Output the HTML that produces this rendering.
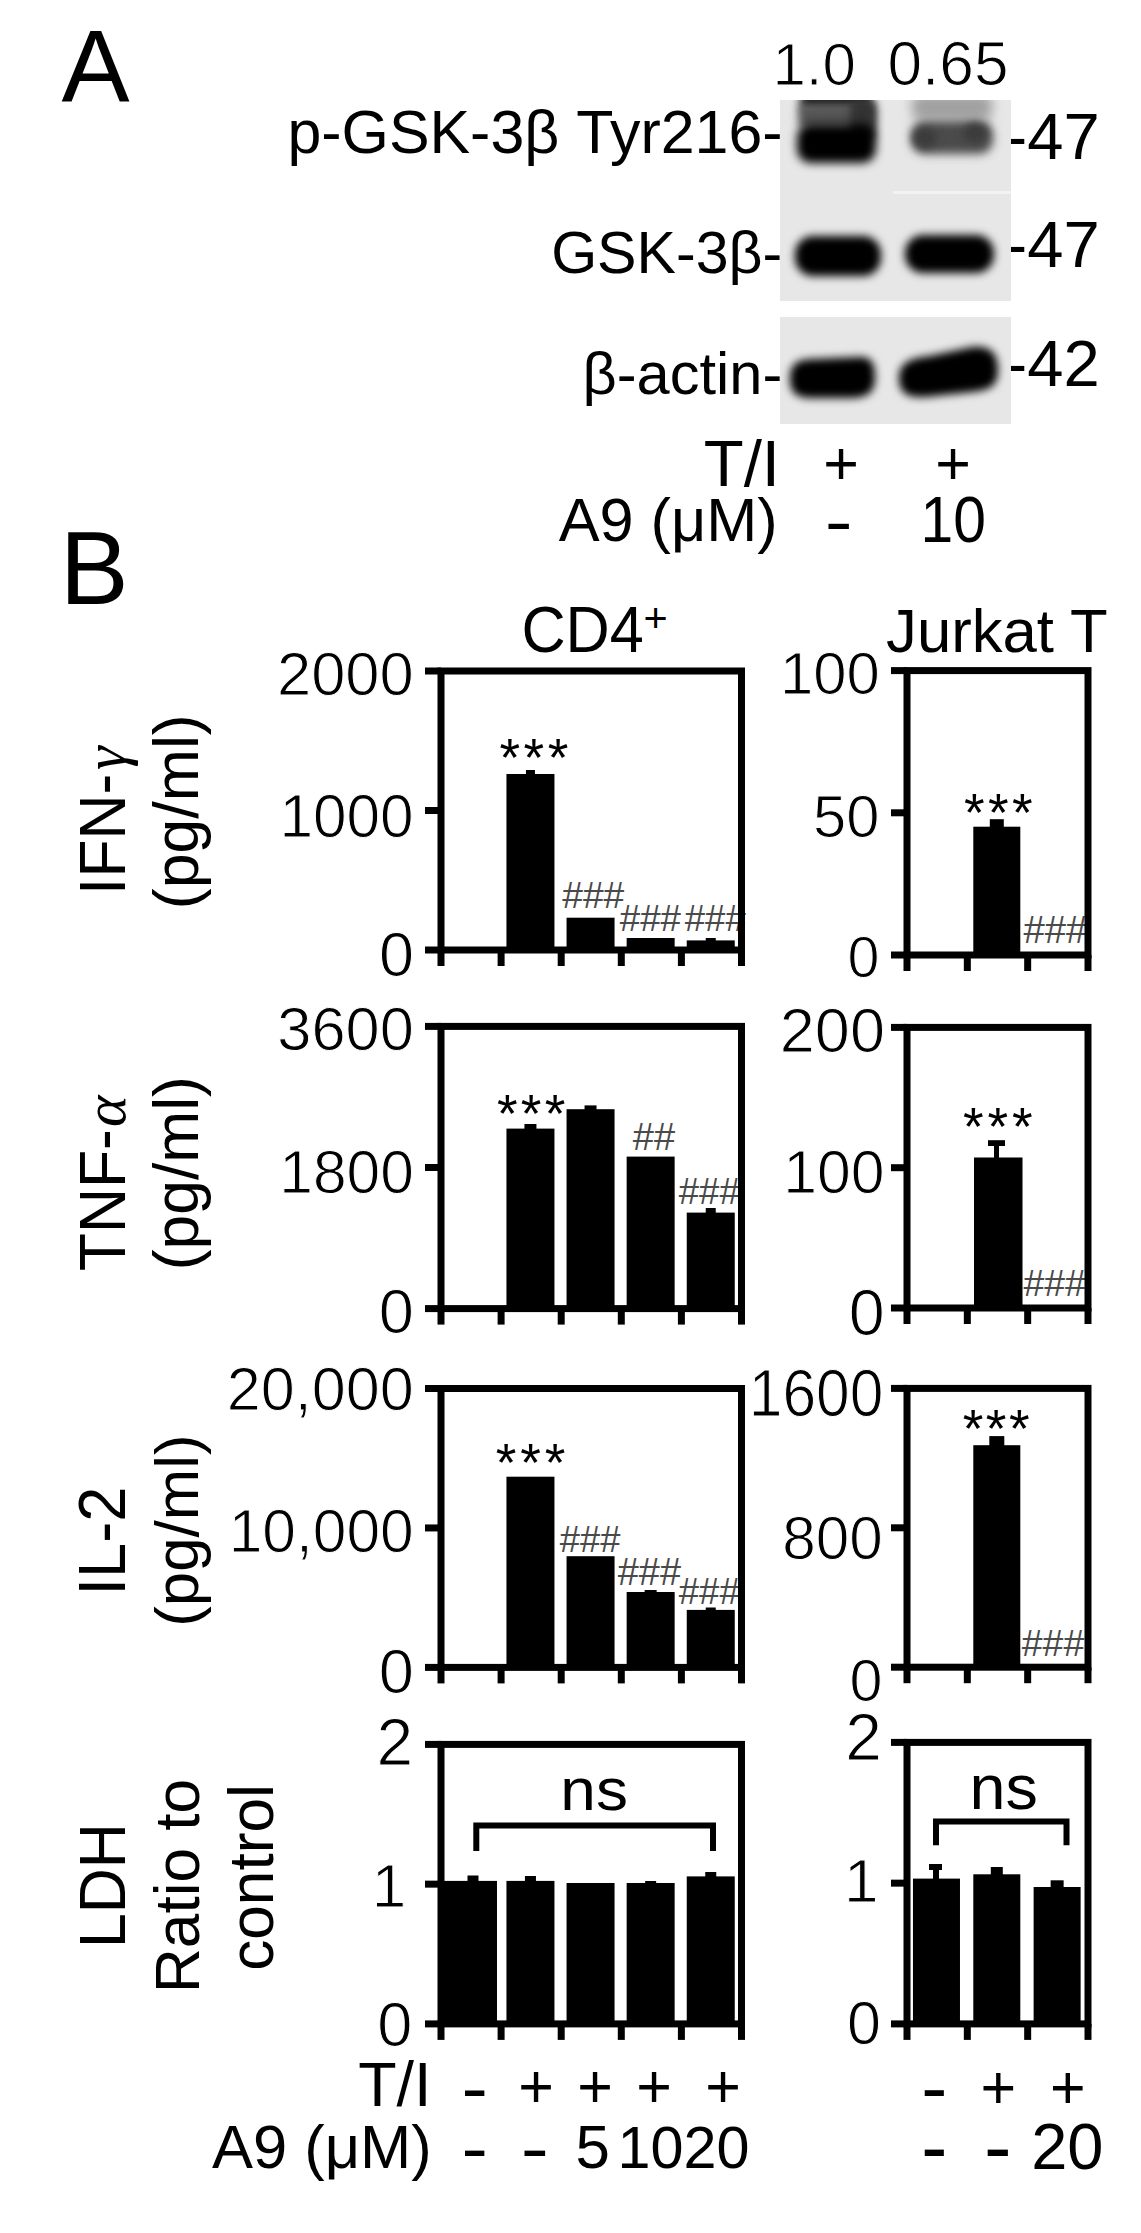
<!DOCTYPE html>
<html><head><meta charset="utf-8"><title>Figure</title>
<style>html,body{margin:0;padding:0;background:#fff;} svg{display:block;}</style></head>
<body><svg width="1141" height="2233" viewBox="0 0 1141 2233">
<rect width="1141" height="2233" fill="#fff"/>
<text x="61.49" y="102.00" style="font-family:'Liberation Sans', Arial, sans-serif;font-size:102.12px" fill="#000" >A</text>
<text x="772.50" y="84.50" style="font-family:'Liberation Sans', Arial, sans-serif;font-size:60.00px" fill="#000" stroke="#fff" stroke-width="1">1.0</text>
<text x="887.51" y="84.50" style="font-family:'Liberation Sans', Arial, sans-serif;font-size:62.20px" fill="#000" stroke="#fff" stroke-width="1">0.65</text>
<text x="287.44" y="153.00" style="font-family:'Liberation Sans', Arial, sans-serif;font-size:60.88px" fill="#000" >p-GSK-3β Tyr216-</text>
<text x="551.14" y="273.40" style="font-family:'Liberation Sans', Arial, sans-serif;font-size:59.13px" fill="#000" >GSK-3β-</text>
<text x="582.53" y="393.70" style="font-family:'Liberation Sans', Arial, sans-serif;font-size:59.57px" fill="#000" >β-actin-</text>
<text x="1005.57" y="158.70" style="font-family:'Liberation Sans', Arial, sans-serif;font-size:65.11px" fill="#000" >-47</text>
<text x="1005.57" y="267.30" style="font-family:'Liberation Sans', Arial, sans-serif;font-size:65.11px" fill="#000" >-47</text>
<text x="1005.57" y="385.50" style="font-family:'Liberation Sans', Arial, sans-serif;font-size:65.11px" fill="#000" >-42</text>
<defs>
<filter id="b6" x="-50%" y="-50%" width="200%" height="200%"><feGaussianBlur stdDeviation="6"/></filter>
<filter id="b4" x="-50%" y="-50%" width="200%" height="200%"><feGaussianBlur stdDeviation="4"/></filter>
<filter id="b5" x="-50%" y="-50%" width="200%" height="200%"><feGaussianBlur stdDeviation="5"/></filter>
<filter id="b8" x="-50%" y="-50%" width="200%" height="200%"><feGaussianBlur stdDeviation="8"/></filter>
<clipPath id="c1"><rect x="780" y="100" width="231" height="93"/></clipPath>
<clipPath id="c2"><rect x="780" y="193" width="231" height="108"/></clipPath>
<clipPath id="c3"><rect x="780" y="317" width="231" height="107"/></clipPath>
</defs>
<rect x="780.00" y="100.00" width="231.00" height="201.00" fill="#e7e7e7" />
<rect x="893.00" y="191.00" width="118.00" height="3.00" fill="#f2f2f2" />
<rect x="780.00" y="317.00" width="231.00" height="107.00" fill="#e7e7e7" />
<g clip-path="url(#c1)">
<rect x="800" y="92" width="72" height="18" rx="6" fill="#1a1a1a" filter="url(#b4)"/>
<rect x="798" y="104" width="77" height="24" rx="6" fill="#555" filter="url(#b4)"/>
<rect x="850" y="100" width="26" height="40" rx="8" fill="#303030" filter="url(#b4)"/>
<rect x="797" y="124" width="79" height="39" rx="14" fill="#000" filter="url(#b5)"/>
<rect x="912" y="94" width="80" height="26" rx="8" fill="#a0a0a0" filter="url(#b6)"/>
<rect x="911" y="121" width="82" height="33" rx="14" fill="#4c4c4c" filter="url(#b5)"/>
<ellipse cx="925" cy="138" rx="12" ry="10" fill="#3a3a3a" filter="url(#b4)"/>
<ellipse cx="975" cy="133" rx="12" ry="10" fill="#3a3a3a" filter="url(#b4)"/>
</g>
<g clip-path="url(#c2)">
<rect x="795" y="236" width="86" height="40" rx="18" fill="#000" filter="url(#b4)"/>
<rect x="905" y="235" width="89" height="38" rx="18" fill="#000" filter="url(#b4)"/>
</g>
<g clip-path="url(#c3)">
<path d="M790 378 C790 362 800 359 815 359 L860 357 C873 357 875 365 875 378 C875 392 868 398 850 398 L812 398 C795 398 790 392 790 378 Z" fill="#000" filter="url(#b4)"/>
<path d="M899 378 C899 362 912 358 930 356 L972 347 C993 345 998 356 998 370 C998 386 990 390 972 392 L925 397 C906 398 899 392 899 378 Z" fill="#000" filter="url(#b4)"/>
</g>
<text x="703.69" y="485.60" style="font-family:'Liberation Sans', Arial, sans-serif;font-size:65.40px" fill="#000" >T/I</text>
<text x="823.16" y="483.89" style="font-family:'Liberation Sans', Arial, sans-serif;font-size:61.00px" fill="#000" >+</text>
<text x="935.16" y="483.89" style="font-family:'Liberation Sans', Arial, sans-serif;font-size:61.00px" fill="#000" >+</text>
<text x="558.69" y="541.00" style="font-family:'Liberation Sans', Arial, sans-serif;font-size:61.25px" fill="#000" >A9 (μM)</text>
<text transform="translate(828.50,523.80) scale(1.372,1.107)" x="-2.75" y="18.61" style="font-family:'Liberation Sans', Arial, sans-serif;font-size:61.0px">-</text>
<text x="920.59" y="542.50" style="font-family:'Liberation Sans', Arial, sans-serif;font-size:58.79px" fill="#000"  transform="translate(0,542.50) scale(1,1.1177) translate(0,-542.50)">10</text>
<text x="59.73" y="604.10" style="font-family:'Liberation Sans', Arial, sans-serif;font-size:103.36px" fill="#000" >B</text>
<text x="521.44" y="651.70" style="font-family:'Liberation Sans', Arial, sans-serif;font-size:61.20px" fill="#000"  transform="translate(0,651.70) scale(1,1.0668) translate(0,-651.70)">CD4</text>
<text x="643.43" y="631.54" style="font-family:'Liberation Sans', Arial, sans-serif;font-size:41.44px" fill="#000" >+</text>
<text x="886.08" y="651.80" style="font-family:'Liberation Sans', Arial, sans-serif;font-size:61.66px" fill="#000" >Jurkat T</text>
<rect x="506.45" y="774.00" width="48.00" height="176.00" fill="#000" />
<rect x="525.95" y="770.00" width="9.00" height="5.00" fill="#000" />
<rect x="566.55" y="917.70" width="48.00" height="32.30" fill="#000" />
<rect x="626.65" y="938.00" width="48.00" height="12.00" fill="#000" />
<rect x="686.75" y="940.40" width="48.00" height="9.60" fill="#000" />
<rect x="705.75" y="938.00" width="10.00" height="3.40" fill="#000" />
<rect x="973.30" y="826.70" width="47.00" height="128.30" fill="#000" />
<rect x="989.80" y="819.20" width="14.00" height="8.50" fill="#000" />
<rect x="506.45" y="1128.60" width="48.00" height="180.00" fill="#000" />
<rect x="524.45" y="1124.00" width="12.00" height="5.60" fill="#000" />
<rect x="566.55" y="1109.20" width="48.00" height="199.40" fill="#000" />
<rect x="584.55" y="1105.40" width="12.00" height="4.80" fill="#000" />
<rect x="626.65" y="1156.60" width="48.00" height="152.00" fill="#000" />
<rect x="686.75" y="1212.60" width="48.00" height="96.00" fill="#000" />
<rect x="705.75" y="1208.00" width="10.00" height="5.60" fill="#000" />
<rect x="974.00" y="1157.50" width="48.50" height="150.50" fill="#000" />
<rect x="994.00" y="1141.00" width="5.00" height="17.00" fill="#000" />
<rect x="988.00" y="1140.20" width="17.00" height="5.80" fill="#000" />
<rect x="506.45" y="1476.70" width="48.00" height="190.70" fill="#000" />
<rect x="566.55" y="1556.20" width="48.00" height="111.20" fill="#000" />
<rect x="626.65" y="1592.00" width="48.00" height="75.40" fill="#000" />
<rect x="644.65" y="1590.00" width="12.00" height="3.00" fill="#000" />
<rect x="686.75" y="1609.90" width="48.00" height="57.50" fill="#000" />
<rect x="705.75" y="1607.50" width="10.00" height="3.40" fill="#000" />
<rect x="973.30" y="1445.20" width="47.00" height="222.00" fill="#000" />
<rect x="989.30" y="1436.10" width="15.00" height="10.10" fill="#000" />
<rect x="441.00" y="1880.90" width="56.00" height="143.00" fill="#000" />
<rect x="467.50" y="1875.50" width="11.00" height="6.40" fill="#000" />
<rect x="506.45" y="1880.90" width="48.00" height="143.00" fill="#000" />
<rect x="524.95" y="1876.00" width="11.00" height="5.90" fill="#000" />
<rect x="566.55" y="1883.00" width="48.00" height="140.90" fill="#000" />
<rect x="626.65" y="1883.00" width="48.00" height="140.90" fill="#000" />
<rect x="645.15" y="1881.00" width="11.00" height="3.00" fill="#000" />
<rect x="686.75" y="1876.40" width="48.00" height="147.50" fill="#000" />
<rect x="705.25" y="1872.00" width="11.00" height="5.40" fill="#000" />
<rect x="912.97" y="1878.60" width="47.00" height="145.30" fill="#000" />
<rect x="929.00" y="1864.00" width="13.00" height="6.00" fill="#000" />
<rect x="933.00" y="1864.00" width="6.00" height="15.00" fill="#000" />
<rect x="973.30" y="1874.30" width="47.00" height="149.60" fill="#000" />
<rect x="990.80" y="1867.00" width="12.00" height="8.30" fill="#000" />
<rect x="1033.63" y="1887.00" width="47.00" height="136.90" fill="#000" />
<rect x="1050.63" y="1880.30" width="13.00" height="7.70" fill="#000" />
<path d="M476.3 1851 L476.3 1825.5 L713 1825.5 L713 1851" fill="none" stroke="#000" stroke-width="6"/>
<path d="M936 1845.2 L936 1821.5 L1066.5 1821.5 L1066.5 1845.2" fill="none" stroke="#000" stroke-width="6"/>
<text x="560.34" y="1810.20" style="font-family:'Liberation Sans', Arial, sans-serif;font-size:63.98px" fill="#000"  transform="translate(0,1810.20) scale(1,0.9320) translate(0,-1810.20)">ns</text>
<text x="969.49" y="1808.80" style="font-family:'Liberation Sans', Arial, sans-serif;font-size:64.71px" fill="#000"  transform="translate(0,1808.80) scale(1,0.9672) translate(0,-1808.80)">ns</text>
<text x="499.44" y="776.37" style="font-family:'Liberation Sans', Arial, sans-serif;font-size:53px;letter-spacing:3.55px" fill="#000">***</text>
<text x="963.94" y="831.37" style="font-family:'Liberation Sans', Arial, sans-serif;font-size:53px;letter-spacing:3.41px" fill="#000">***</text>
<text x="496.94" y="1131.57" style="font-family:'Liberation Sans', Arial, sans-serif;font-size:53px;letter-spacing:3.30px" fill="#000">***</text>
<text x="962.94" y="1145.27" style="font-family:'Liberation Sans', Arial, sans-serif;font-size:53px;letter-spacing:3.91px" fill="#000">***</text>
<text x="495.84" y="1481.07" style="font-family:'Liberation Sans', Arial, sans-serif;font-size:53px;letter-spacing:3.86px" fill="#000">***</text>
<text x="962.64" y="1446.67" style="font-family:'Liberation Sans', Arial, sans-serif;font-size:53px;letter-spacing:2.60px" fill="#000">***</text>
<text x="562.21" y="908.00" style="font-family:'Liberation Sans', Arial, sans-serif;font-size:37.22px" fill="#4a4a4a" >###</text>
<text x="619.82" y="930.50" style="font-family:'Liberation Sans', Arial, sans-serif;font-size:36.68px" fill="#4a4a4a" >###</text>
<text x="684.82" y="930.50" style="font-family:'Liberation Sans', Arial, sans-serif;font-size:36.50px" fill="#4a4a4a" >###</text>
<text x="1023.41" y="942.80" style="font-family:'Liberation Sans', Arial, sans-serif;font-size:38.31px" fill="#4a4a4a" >###</text>
<text x="632.81" y="1150.00" style="font-family:'Liberation Sans', Arial, sans-serif;font-size:38.00px" fill="#4a4a4a" >##</text>
<text x="678.82" y="1203.70" style="font-family:'Liberation Sans', Arial, sans-serif;font-size:36.50px" fill="#4a4a4a" >###</text>
<text x="1023.41" y="1295.60" style="font-family:'Liberation Sans', Arial, sans-serif;font-size:37.34px" fill="#4a4a4a" >###</text>
<text x="559.82" y="1551.80" style="font-family:'Liberation Sans', Arial, sans-serif;font-size:36.25px" fill="#4a4a4a" >###</text>
<text x="617.81" y="1585.00" style="font-family:'Liberation Sans', Arial, sans-serif;font-size:37.89px" fill="#4a4a4a" >###</text>
<text x="678.82" y="1604.00" style="font-family:'Liberation Sans', Arial, sans-serif;font-size:36.50px" fill="#4a4a4a" >###</text>
<text x="1021.81" y="1655.50" style="font-family:'Liberation Sans', Arial, sans-serif;font-size:37.40px" fill="#4a4a4a" >###</text>
<rect x="441.00" y="671.00" width="300.50" height="279.00" fill="none" stroke="#000" stroke-width="7"/>
<line x1="425.00" y1="671.00" x2="441.00" y2="671.00" stroke="#000" stroke-width="7"/>
<line x1="425.00" y1="810.50" x2="441.00" y2="810.50" stroke="#000" stroke-width="7"/>
<line x1="425.00" y1="950.00" x2="441.00" y2="950.00" stroke="#000" stroke-width="7"/>
<line x1="441.00" y1="950.00" x2="441.00" y2="966.00" stroke="#000" stroke-width="7"/>
<line x1="501.10" y1="950.00" x2="501.10" y2="966.00" stroke="#000" stroke-width="7"/>
<line x1="561.20" y1="950.00" x2="561.20" y2="966.00" stroke="#000" stroke-width="7"/>
<line x1="621.30" y1="950.00" x2="621.30" y2="966.00" stroke="#000" stroke-width="7"/>
<line x1="681.40" y1="950.00" x2="681.40" y2="966.00" stroke="#000" stroke-width="7"/>
<line x1="741.50" y1="950.00" x2="741.50" y2="966.00" stroke="#000" stroke-width="7"/>
<rect x="907.00" y="670.60" width="181.00" height="284.40" fill="none" stroke="#000" stroke-width="7"/>
<line x1="891.00" y1="670.60" x2="907.00" y2="670.60" stroke="#000" stroke-width="7"/>
<line x1="891.00" y1="812.80" x2="907.00" y2="812.80" stroke="#000" stroke-width="7"/>
<line x1="891.00" y1="955.00" x2="907.00" y2="955.00" stroke="#000" stroke-width="7"/>
<line x1="907.00" y1="955.00" x2="907.00" y2="971.00" stroke="#000" stroke-width="7"/>
<line x1="967.33" y1="955.00" x2="967.33" y2="971.00" stroke="#000" stroke-width="7"/>
<line x1="1027.67" y1="955.00" x2="1027.67" y2="971.00" stroke="#000" stroke-width="7"/>
<line x1="1088.00" y1="955.00" x2="1088.00" y2="971.00" stroke="#000" stroke-width="7"/>
<rect x="441.00" y="1026.40" width="300.50" height="282.20" fill="none" stroke="#000" stroke-width="7"/>
<line x1="425.00" y1="1026.40" x2="441.00" y2="1026.40" stroke="#000" stroke-width="7"/>
<line x1="425.00" y1="1167.50" x2="441.00" y2="1167.50" stroke="#000" stroke-width="7"/>
<line x1="425.00" y1="1308.60" x2="441.00" y2="1308.60" stroke="#000" stroke-width="7"/>
<line x1="441.00" y1="1308.60" x2="441.00" y2="1324.60" stroke="#000" stroke-width="7"/>
<line x1="501.10" y1="1308.60" x2="501.10" y2="1324.60" stroke="#000" stroke-width="7"/>
<line x1="561.20" y1="1308.60" x2="561.20" y2="1324.60" stroke="#000" stroke-width="7"/>
<line x1="621.30" y1="1308.60" x2="621.30" y2="1324.60" stroke="#000" stroke-width="7"/>
<line x1="681.40" y1="1308.60" x2="681.40" y2="1324.60" stroke="#000" stroke-width="7"/>
<line x1="741.50" y1="1308.60" x2="741.50" y2="1324.60" stroke="#000" stroke-width="7"/>
<rect x="907.00" y="1027.40" width="181.00" height="280.60" fill="none" stroke="#000" stroke-width="7"/>
<line x1="891.00" y1="1027.40" x2="907.00" y2="1027.40" stroke="#000" stroke-width="7"/>
<line x1="891.00" y1="1167.70" x2="907.00" y2="1167.70" stroke="#000" stroke-width="7"/>
<line x1="891.00" y1="1308.00" x2="907.00" y2="1308.00" stroke="#000" stroke-width="7"/>
<line x1="907.00" y1="1308.00" x2="907.00" y2="1324.00" stroke="#000" stroke-width="7"/>
<line x1="967.33" y1="1308.00" x2="967.33" y2="1324.00" stroke="#000" stroke-width="7"/>
<line x1="1027.67" y1="1308.00" x2="1027.67" y2="1324.00" stroke="#000" stroke-width="7"/>
<line x1="1088.00" y1="1308.00" x2="1088.00" y2="1324.00" stroke="#000" stroke-width="7"/>
<rect x="441.00" y="1388.50" width="300.50" height="278.90" fill="none" stroke="#000" stroke-width="7"/>
<line x1="425.00" y1="1388.50" x2="441.00" y2="1388.50" stroke="#000" stroke-width="7"/>
<line x1="425.00" y1="1527.95" x2="441.00" y2="1527.95" stroke="#000" stroke-width="7"/>
<line x1="425.00" y1="1667.40" x2="441.00" y2="1667.40" stroke="#000" stroke-width="7"/>
<line x1="441.00" y1="1667.40" x2="441.00" y2="1683.40" stroke="#000" stroke-width="7"/>
<line x1="501.10" y1="1667.40" x2="501.10" y2="1683.40" stroke="#000" stroke-width="7"/>
<line x1="561.20" y1="1667.40" x2="561.20" y2="1683.40" stroke="#000" stroke-width="7"/>
<line x1="621.30" y1="1667.40" x2="621.30" y2="1683.40" stroke="#000" stroke-width="7"/>
<line x1="681.40" y1="1667.40" x2="681.40" y2="1683.40" stroke="#000" stroke-width="7"/>
<line x1="741.50" y1="1667.40" x2="741.50" y2="1683.40" stroke="#000" stroke-width="7"/>
<rect x="907.00" y="1388.40" width="181.00" height="278.80" fill="none" stroke="#000" stroke-width="7"/>
<line x1="891.00" y1="1388.40" x2="907.00" y2="1388.40" stroke="#000" stroke-width="7"/>
<line x1="891.00" y1="1527.80" x2="907.00" y2="1527.80" stroke="#000" stroke-width="7"/>
<line x1="891.00" y1="1667.20" x2="907.00" y2="1667.20" stroke="#000" stroke-width="7"/>
<line x1="907.00" y1="1667.20" x2="907.00" y2="1683.20" stroke="#000" stroke-width="7"/>
<line x1="967.33" y1="1667.20" x2="967.33" y2="1683.20" stroke="#000" stroke-width="7"/>
<line x1="1027.67" y1="1667.20" x2="1027.67" y2="1683.20" stroke="#000" stroke-width="7"/>
<line x1="1088.00" y1="1667.20" x2="1088.00" y2="1683.20" stroke="#000" stroke-width="7"/>
<rect x="441.00" y="1744.40" width="300.50" height="279.50" fill="none" stroke="#000" stroke-width="7"/>
<line x1="425.00" y1="1744.40" x2="441.00" y2="1744.40" stroke="#000" stroke-width="7"/>
<line x1="425.00" y1="1884.15" x2="441.00" y2="1884.15" stroke="#000" stroke-width="7"/>
<line x1="425.00" y1="2023.90" x2="441.00" y2="2023.90" stroke="#000" stroke-width="7"/>
<line x1="441.00" y1="2023.90" x2="441.00" y2="2039.90" stroke="#000" stroke-width="7"/>
<line x1="501.10" y1="2023.90" x2="501.10" y2="2039.90" stroke="#000" stroke-width="7"/>
<line x1="561.20" y1="2023.90" x2="561.20" y2="2039.90" stroke="#000" stroke-width="7"/>
<line x1="621.30" y1="2023.90" x2="621.30" y2="2039.90" stroke="#000" stroke-width="7"/>
<line x1="681.40" y1="2023.90" x2="681.40" y2="2039.90" stroke="#000" stroke-width="7"/>
<line x1="741.50" y1="2023.90" x2="741.50" y2="2039.90" stroke="#000" stroke-width="7"/>
<rect x="907.00" y="1742.40" width="181.00" height="281.50" fill="none" stroke="#000" stroke-width="7"/>
<line x1="891.00" y1="1742.40" x2="907.00" y2="1742.40" stroke="#000" stroke-width="7"/>
<line x1="891.00" y1="1883.15" x2="907.00" y2="1883.15" stroke="#000" stroke-width="7"/>
<line x1="891.00" y1="2023.90" x2="907.00" y2="2023.90" stroke="#000" stroke-width="7"/>
<line x1="907.00" y1="2023.90" x2="907.00" y2="2039.90" stroke="#000" stroke-width="7"/>
<line x1="967.33" y1="2023.90" x2="967.33" y2="2039.90" stroke="#000" stroke-width="7"/>
<line x1="1027.67" y1="2023.90" x2="1027.67" y2="2039.90" stroke="#000" stroke-width="7"/>
<line x1="1088.00" y1="2023.90" x2="1088.00" y2="2039.90" stroke="#000" stroke-width="7"/>
<g stroke="#fff" stroke-width="1">
<text x="276.93" y="695.00" style="font-family:'Liberation Sans', Arial, sans-serif;font-size:61.50px" fill="#000" >2000</text>
<text x="279.48" y="836.50" style="font-family:'Liberation Sans', Arial, sans-serif;font-size:60.33px" fill="#000" >1000</text>
<text x="378.88" y="976.00" style="font-family:'Liberation Sans', Arial, sans-serif;font-size:62.95px" fill="#000" >0</text>
<text x="780.11" y="694.00" style="font-family:'Liberation Sans', Arial, sans-serif;font-size:59.81px" fill="#000" >100</text>
<text x="813.11" y="837.00" style="font-family:'Liberation Sans', Arial, sans-serif;font-size:59.71px" fill="#000" >50</text>
<text x="847.40" y="977.00" style="font-family:'Liberation Sans', Arial, sans-serif;font-size:57.47px" fill="#000" >0</text>
<text x="277.35" y="1050.00" style="font-family:'Liberation Sans', Arial, sans-serif;font-size:61.35px" fill="#000" >3600</text>
<text x="279.26" y="1192.50" style="font-family:'Liberation Sans', Arial, sans-serif;font-size:60.47px" fill="#000" >1800</text>
<text x="378.87" y="1333.00" style="font-family:'Liberation Sans', Arial, sans-serif;font-size:63.16px" fill="#000" >0</text>
<text x="779.85" y="1051.80" style="font-family:'Liberation Sans', Arial, sans-serif;font-size:62.98px" fill="#000" >200</text>
<text x="783.35" y="1193.20" style="font-family:'Liberation Sans', Arial, sans-serif;font-size:60.71px" fill="#000" >100</text>
<text x="848.71" y="1334.70" style="font-family:'Liberation Sans', Arial, sans-serif;font-size:64.63px" fill="#000" >0</text>
<text x="226.84" y="1410.00" style="font-family:'Liberation Sans', Arial, sans-serif;font-size:61.11px" fill="#000" >20,000</text>
<text x="228.66" y="1551.50" style="font-family:'Liberation Sans', Arial, sans-serif;font-size:60.51px" fill="#000" >10,000</text>
<text x="378.87" y="1693.00" style="font-family:'Liberation Sans', Arial, sans-serif;font-size:63.16px" fill="#000" >0</text>
<text x="748.86" y="1416.50" style="font-family:'Liberation Sans', Arial, sans-serif;font-size:60.47px" fill="#000"  transform="translate(0,1416.50) scale(1,1.0985) translate(0,-1416.50)">1600</text>
<text x="782.29" y="1558.70" style="font-family:'Liberation Sans', Arial, sans-serif;font-size:60.25px" fill="#000" >800</text>
<text x="849.43" y="1700.60" style="font-family:'Liberation Sans', Arial, sans-serif;font-size:59.37px" fill="#000" >0</text>
<text x="376.40" y="1765.00" style="font-family:'Liberation Sans', Arial, sans-serif;font-size:65.93px" fill="#000" >2</text>
<text x="371.69" y="1906.50" style="font-family:'Liberation Sans', Arial, sans-serif;font-size:62.00px" fill="#000" >1</text>
<text x="377.17" y="2046.40" style="font-family:'Liberation Sans', Arial, sans-serif;font-size:63.16px" fill="#000" >0</text>
<text x="845.20" y="1760.00" style="font-family:'Liberation Sans', Arial, sans-serif;font-size:65.93px" fill="#000" >2</text>
<text x="843.89" y="1902.00" style="font-family:'Liberation Sans', Arial, sans-serif;font-size:62.00px" fill="#000" >1</text>
<text x="847.06" y="2044.00" style="font-family:'Liberation Sans', Arial, sans-serif;font-size:61.05px" fill="#000" >0</text>
</g>
<text transform="translate(124.70,894.91) rotate(-90) scale(1,1.05)" style="font-family:'Liberation Sans', Arial, sans-serif;font-size:62.38px">IFN-</text>
<text transform="translate(124.7,770) rotate(-90)" style="font-family:'Liberation Serif',serif;font-style:italic;font-size:60px">γ</text>
<text transform="translate(198.40,909.16) rotate(-90)" style="font-family:'Liberation Sans', Arial, sans-serif;font-size:62.61px">(pg/ml)</text>
<text transform="translate(125.00,1271.25) rotate(-90) scale(1,1.05)" style="font-family:'Liberation Sans', Arial, sans-serif;font-size:62.44px">TNF-</text>
<text transform="translate(125,1127) rotate(-90)" style="font-family:'Liberation Serif',serif;font-style:italic;font-size:60px">α</text>
<text transform="translate(198.40,1270.14) rotate(-90)" style="font-family:'Liberation Sans', Arial, sans-serif;font-size:62.34px">(pg/ml)</text>
<text transform="translate(125.00,1595.49) rotate(-90) scale(1,1.05)" style="font-family:'Liberation Sans', Arial, sans-serif;font-size:63.23px">IL-2</text>
<text transform="translate(198.40,1626.71) rotate(-90)" style="font-family:'Liberation Sans', Arial, sans-serif;font-size:61.77px">(pg/ml)</text>
<text transform="translate(125.00,1947.99) rotate(-90) scale(1,1.05)" style="font-family:'Liberation Sans', Arial, sans-serif;font-size:62.39px">LDH</text>
<text transform="translate(199.20,1992.97) rotate(-90)" style="font-family:'Liberation Sans', Arial, sans-serif;font-size:62.08px">Ratio to</text>
<text transform="translate(273.30,1970.80) rotate(-90)" style="font-family:'Liberation Sans', Arial, sans-serif;font-size:62.18px">control</text>
<text x="358.24" y="2106.40" style="font-family:'Liberation Sans', Arial, sans-serif;font-size:62.84px" fill="#000" >T/I</text>
<text x="211.99" y="2167.80" style="font-family:'Liberation Sans', Arial, sans-serif;font-size:61.45px" fill="#000" >A9 (μM)</text>
<text transform="translate(465.00,2090.60) scale(1.298,1.148)" x="-2.75" y="18.61" style="font-family:'Liberation Sans', Arial, sans-serif;font-size:61.0px">-</text>
<text x="518.16" y="2106.99" style="font-family:'Liberation Sans', Arial, sans-serif;font-size:61.00px" fill="#000" >+</text>
<text x="577.16" y="2106.99" style="font-family:'Liberation Sans', Arial, sans-serif;font-size:61.00px" fill="#000" >+</text>
<text x="636.16" y="2106.99" style="font-family:'Liberation Sans', Arial, sans-serif;font-size:61.00px" fill="#000" >+</text>
<text x="705.16" y="2106.99" style="font-family:'Liberation Sans', Arial, sans-serif;font-size:61.00px" fill="#000" >+</text>
<text transform="translate(465.00,2151.00) scale(1.298,1.127)" x="-2.75" y="18.61" style="font-family:'Liberation Sans', Arial, sans-serif;font-size:61.0px">-</text>
<text transform="translate(524.50,2151.00) scale(1.385,1.127)" x="-2.75" y="18.61" style="font-family:'Liberation Sans', Arial, sans-serif;font-size:61.0px">-</text>
<text x="575.52" y="2167.80" style="font-family:'Liberation Sans', Arial, sans-serif;font-size:61.89px" fill="#000" >5</text>
<text x="617.55" y="2167.80" style="font-family:'Liberation Sans', Arial, sans-serif;font-size:59.34px" fill="#000" >1020</text>
<text transform="translate(924.80,2090.50) scale(1.285,1.230)" x="-2.75" y="18.61" style="font-family:'Liberation Sans', Arial, sans-serif;font-size:61.0px">-</text>
<text x="980.56" y="2107.69" style="font-family:'Liberation Sans', Arial, sans-serif;font-size:61.00px" fill="#000" >+</text>
<text x="1049.96" y="2107.69" style="font-family:'Liberation Sans', Arial, sans-serif;font-size:61.00px" fill="#000" >+</text>
<text transform="translate(924.80,2150.00) scale(1.285,1.332)" x="-2.75" y="18.61" style="font-family:'Liberation Sans', Arial, sans-serif;font-size:61.0px">-</text>
<text transform="translate(987.70,2150.00) scale(1.358,1.332)" x="-2.75" y="18.61" style="font-family:'Liberation Sans', Arial, sans-serif;font-size:61.0px">-</text>
<text x="1031.15" y="2168.50" style="font-family:'Liberation Sans', Arial, sans-serif;font-size:65.00px" fill="#000" >20</text>
</svg></body></html>
